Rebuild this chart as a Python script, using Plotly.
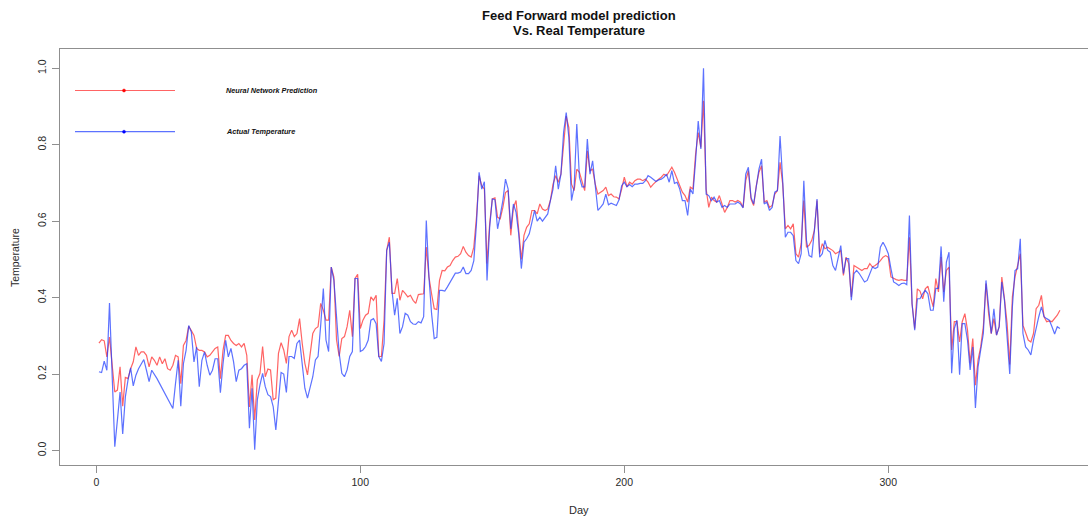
import plotly.graph_objects as go

days = list(range(1, 366))

actual = [
0.206,0.204,0.234,0.210,0.386,0.200,0.010,0.080,0.153,0.043,
0.140,0.184,0.216,0.169,0.197,0.214,0.227,0.238,0.210,0.180,
0.210,0.200,0.188,0.175,0.162,0.149,0.136,0.123,0.110,0.175,
0.236,0.116,0.227,0.262,0.327,0.310,0.232,0.271,0.167,0.236,
0.258,0.223,0.197,0.210,0.240,0.240,0.151,0.227,0.288,0.245,
0.267,0.232,0.180,0.210,0.214,0.223,0.227,0.058,0.163,0.002,
0.133,0.172,0.202,0.167,0.146,0.141,0.115,0.054,0.141,0.204,
0.200,0.152,0.246,0.246,0.241,0.280,0.289,0.228,0.163,0.137,
0.167,0.193,0.237,0.246,0.328,0.424,0.289,0.259,0.480,0.445,
0.350,0.254,0.202,0.193,0.211,0.246,0.259,0.450,0.450,0.259,
0.263,0.272,0.289,0.341,0.345,0.332,0.246,0.233,0.280,0.524,
0.545,0.419,0.354,0.398,0.306,0.324,0.359,0.354,0.337,0.331,
0.330,0.337,0.334,0.350,0.602,0.454,0.358,0.293,0.296,0.419,
0.419,0.417,0.428,0.441,0.454,0.464,0.464,0.467,0.480,0.463,
0.463,0.471,0.497,0.593,0.728,0.684,0.703,0.445,0.584,0.658,
0.656,0.580,0.615,0.654,0.710,0.684,0.580,0.645,0.623,0.567,
0.476,0.545,0.554,0.567,0.597,0.628,0.600,0.610,0.600,0.610,
0.619,0.654,0.684,0.745,0.684,0.723,0.832,0.884,0.819,0.654,
0.689,0.854,0.715,0.690,0.690,0.815,0.723,0.758,0.693,0.628,
0.636,0.645,0.671,0.643,0.647,0.645,0.641,0.656,0.693,0.702,
0.690,0.696,0.690,0.697,0.697,0.699,0.699,0.706,0.719,0.715,
0.710,0.704,0.708,0.710,0.715,0.723,0.702,0.732,0.699,0.702,
0.684,0.654,0.654,0.615,0.684,0.671,0.758,0.862,0.789,1.000,
0.671,0.667,0.654,0.663,0.650,0.654,0.636,0.641,0.636,0.645,
0.645,0.645,0.650,0.645,0.635,0.723,0.741,0.662,0.645,0.697,
0.736,0.762,0.645,0.650,0.628,0.636,0.676,0.680,0.823,0.706,
0.558,0.571,0.571,0.562,0.497,0.489,0.515,0.706,0.550,0.510,
0.506,0.576,0.658,0.506,0.515,0.550,0.524,0.519,0.484,0.471,
0.506,0.536,0.463,0.502,0.502,0.393,0.463,0.471,0.463,0.450,
0.441,0.445,0.463,0.480,0.476,0.480,0.532,0.545,0.532,0.515,
0.476,0.441,0.437,0.432,0.437,0.438,0.434,0.615,0.384,0.315,
0.397,0.397,0.410,0.419,0.410,0.367,0.367,0.424,0.424,0.534,
0.389,0.493,0.519,0.202,0.319,0.341,0.198,0.332,0.332,0.289,
0.211,0.271,0.111,0.219,0.263,0.306,0.445,0.367,0.306,0.371,
0.302,0.324,0.441,0.393,0.297,0.200,0.376,0.471,0.476,0.554,
0.306,0.271,0.263,0.250,0.289,0.324,0.350,0.376,0.350,0.345,
0.341,0.324,0.305,0.324,0.319,
]

predicted = [
0.281,0.290,0.287,0.245,0.297,0.220,0.153,0.158,0.219,0.116,
0.191,0.188,0.214,0.232,0.271,0.249,0.258,0.258,0.249,0.219,
0.245,0.236,0.223,0.245,0.227,0.240,0.214,0.210,0.223,0.249,
0.245,0.175,0.275,0.288,0.325,0.314,0.301,0.267,0.262,0.262,
0.258,0.245,0.249,0.258,0.267,0.271,0.188,0.262,0.301,0.301,
0.288,0.280,0.275,0.280,0.271,0.280,0.249,0.114,0.198,0.080,
0.185,0.202,0.272,0.193,0.213,0.211,0.133,0.137,0.254,0.282,
0.263,0.228,0.298,0.315,0.298,0.306,0.345,0.280,0.228,0.198,
0.254,0.306,0.319,0.324,0.385,0.367,0.341,0.341,0.480,0.454,
0.289,0.246,0.293,0.298,0.324,0.367,0.298,0.450,0.461,0.319,
0.341,0.354,0.359,0.402,0.393,0.406,0.246,0.246,0.341,0.524,
0.558,0.411,0.411,0.450,0.393,0.419,0.411,0.402,0.406,0.393,
0.385,0.408,0.409,0.410,0.532,0.454,0.410,0.371,0.369,0.445,
0.471,0.470,0.480,0.484,0.497,0.506,0.508,0.515,0.534,0.519,
0.510,0.506,0.532,0.610,0.719,0.693,0.684,0.489,0.593,0.658,
0.661,0.610,0.606,0.636,0.675,0.680,0.563,0.636,0.654,0.567,
0.500,0.563,0.584,0.593,0.628,0.628,0.619,0.645,0.632,0.628,
0.632,0.654,0.697,0.719,0.702,0.723,0.810,0.875,0.845,0.697,
0.680,0.736,0.728,0.700,0.680,0.784,0.732,0.736,0.697,0.671,
0.676,0.680,0.689,0.667,0.671,0.664,0.663,0.658,0.684,0.715,
0.690,0.702,0.697,0.706,0.710,0.710,0.706,0.710,0.702,0.689,
0.697,0.704,0.710,0.715,0.723,0.719,0.732,0.741,0.728,0.710,
0.697,0.676,0.667,0.650,0.689,0.684,0.775,0.832,0.793,0.915,
0.684,0.636,0.663,0.654,0.650,0.667,0.645,0.623,0.636,0.654,
0.654,0.650,0.654,0.650,0.636,0.706,0.732,0.658,0.641,0.693,
0.728,0.745,0.650,0.654,0.636,0.641,0.671,0.680,0.754,0.697,
0.580,0.589,0.580,0.593,0.515,0.506,0.541,0.654,0.532,0.537,
0.550,0.576,0.654,0.515,0.541,0.528,0.532,0.528,0.523,0.515,
0.519,0.523,0.458,0.506,0.489,0.402,0.484,0.480,0.476,0.471,
0.476,0.476,0.489,0.480,0.484,0.489,0.497,0.506,0.510,0.506,
0.454,0.450,0.447,0.445,0.447,0.445,0.445,0.558,0.384,0.319,
0.423,0.417,0.397,0.423,0.430,0.402,0.376,0.450,0.415,0.506,
0.415,0.471,0.480,0.263,0.337,0.337,0.284,0.337,0.358,0.315,
0.228,0.293,0.171,0.237,0.271,0.324,0.437,0.358,0.306,0.345,
0.302,0.324,0.454,0.397,0.332,0.225,0.402,0.454,0.484,0.515,
0.328,0.306,0.289,0.284,0.306,0.371,0.380,0.406,0.350,0.337,
0.339,0.337,0.345,0.354,0.367,
]

x_ticks = [0, 100, 200, 300]
y_ticks = [0.0, 0.2, 0.4, 0.6, 0.8, 1.0]
y_tick_text = ["0.0", "0.2", "0.4", "0.6", "0.8", "1.0"]
legend_labels = ["Neural Network Prediction", "Actual Temperature"]

RED = "rgba(255,40,40,0.72)"
BLUE = "rgba(30,60,255,0.72)"
AXIS = "#8f8f8f"
TXT = "#2a2a2a"

W, H = 1088, 516
L, T, B = 60, 49, 465
PW = W - L
PH = B - T

def px(xp):
    return (xp - L) / PW

def py(yp):
    return (B - yp) / PH

fig = go.Figure()
fig.add_trace(go.Scatter(x=days, y=predicted, mode="lines",
                         line=dict(color=RED, width=1.2), name=legend_labels[0]))
fig.add_trace(go.Scatter(x=days, y=actual, mode="lines",
                         line=dict(color=BLUE, width=1.2), name=legend_labels[1]))

x0_px = 96.3
ppd = 2.64
xr = [(L - x0_px) / ppd, (W - x0_px) / ppd]
y0_px, y1_px = 450.5, 68.3
ppu = y0_px - y1_px
yr = [(y0_px - B) / ppu, (y0_px - T) / ppu]

fig.update_layout(
    width=W, height=H,
    margin=dict(l=L, r=0, t=T, b=H - B, pad=0),
    plot_bgcolor="white", paper_bgcolor="white",
    showlegend=False,
    font=dict(family="Liberation Sans, Arial, sans-serif", color=TXT, size=11),
    xaxis=dict(range=xr, tickvals=x_ticks, ticktext=[str(v) for v in x_ticks],
               showgrid=False, zeroline=False, showline=True, linecolor=AXIS,
               linewidth=1.3, mirror=True, ticks="outside", ticklen=7,
               tickcolor=AXIS, tickwidth=1, tickfont=dict(size=10.5, color=TXT)),
    yaxis=dict(range=yr, tickvals=y_ticks, ticktext=y_tick_text,
               showgrid=False, zeroline=False, showline=True, linecolor=AXIS,
               linewidth=1.3, mirror=False, ticks="outside", ticklen=7,
               tickcolor=AXIS, tickwidth=1, tickangle=-90, ticklabelstandoff=2,
               tickfont=dict(size=10.5, color=TXT)),
)

ann = []
ann.append(dict(text="<b>Feed Forward model prediction</b>", x=px(579), y=py(16),
                xref="paper", yref="paper", showarrow=False, xanchor="center",
                yanchor="middle", font=dict(size=13, color="#111")))
ann.append(dict(text="<b>Vs. Real Temperature</b>", x=px(579), y=py(31),
                xref="paper", yref="paper", showarrow=False, xanchor="center",
                yanchor="middle", font=dict(size=13, color="#111")))
ann.append(dict(text="Day", x=px(579), y=py(510), xref="paper", yref="paper",
                showarrow=False, xanchor="center", yanchor="middle",
                font=dict(size=11, color=TXT)))
ann.append(dict(text="Temperature", x=px(15), y=py(258), xref="paper", yref="paper",
                showarrow=False, xanchor="center", yanchor="middle", textangle=-90,
                font=dict(size=10.5, color=TXT)))

shapes = []
for lab, col, yy, dot in [(legend_labels[0], RED, 90.5, "red"),
                           (legend_labels[1], BLUE, 131.7, "blue")]:
    shapes.append(dict(type="line", xref="paper", yref="paper",
                       x0=px(75), x1=px(175), y0=py(yy), y1=py(yy),
                       line=dict(color=col, width=1.2)))
    shapes.append(dict(type="circle", xref="paper", yref="paper",
                       x0=px(122.5), x1=px(125.5), y0=py(yy + 1.5), y1=py(yy - 1.5),
                       fillcolor=dot, line=dict(color=dot, width=0.5)))
    ann.append(dict(text="<b><i>" + lab + "</i></b>", x=px(224), y=py(yy),
                    xref="paper", yref="paper", showarrow=False, xanchor="left",
                    yanchor="middle", font=dict(size=7.3, color="#111")))

fig.update_layout(annotations=ann, shapes=shapes)
fig.write_html("out.html")
